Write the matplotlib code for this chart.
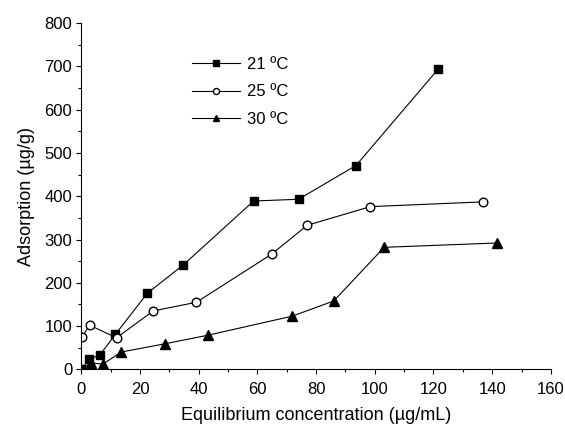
import matplotlib
matplotlib.use("Agg")
import matplotlib.pyplot as plt
from matplotlib.ticker import MultipleLocator

plt.rcParams['font.family'] = ['Liberation Sans', 'DejaVu Sans']

# datos
x_21 = [0, 2.7, 6.3, 11.6, 22.5, 34.7, 58.7, 74.0, 93.6, 121.5]
y_21 = [0, 24, 33, 81, 176, 241, 389, 393, 471, 693]

x_25 = [0.2, 2.8, 12.0, 24.5, 39.2, 64.8, 77.0, 98.5, 137.0]
y_25 = [75, 102, 73, 135, 155, 266, 333, 376, 387]

x_30 = [0, 3.3, 7.3, 13.6, 28.4, 43.2, 71.9, 86.0, 103.2, 141.7]
y_30 = [0, 15, 12, 40, 59, 79, 123, 158, 282, 292]

etiquetas = ['21 ºC', '25 ºC', '30 ºC']

fig = plt.figure(figsize=(5.65, 4.28), dpi=100)
ax = fig.add_axes([0.144, 0.137, 0.831, 0.809])

estilo = dict(color='black', linewidth=0.8)
ax.plot(x_21, y_21, marker='s', markersize=5.6, markerfacecolor='black',
        label=etiquetas[0], **estilo)
ax.plot(x_25, y_25, marker='o', markersize=6.2, markerfacecolor='white',
        label=etiquetas[1], **estilo)
ax.plot(x_30, y_30, marker='^', markersize=6.5, markerfacecolor='black',
        label=etiquetas[2], **estilo)

ax.set_xlim(0, 160)
ax.set_ylim(0, 800)
ax.xaxis.set_major_locator(MultipleLocator(20))
ax.xaxis.set_minor_locator(MultipleLocator(10))
ax.yaxis.set_major_locator(MultipleLocator(100))
ax.yaxis.set_minor_locator(MultipleLocator(50))
ax.tick_params(which='major', length=3.5, width=0.8, labelsize=12)
ax.tick_params(which='minor', length=2.2, width=0.8)
ax.tick_params(axis='x', which='major', pad=5.5)
ax.tick_params(axis='y', which='major', pad=3)

for lado in ['top', 'right']:
    ax.spines[lado].set_visible(False)
for lado in ['left', 'bottom']:
    ax.spines[lado].set_linewidth(0.8)

ax.set_xlabel('Equilibrium concentration (µg/mL)', fontsize=13, labelpad=7)
ax.set_ylabel('Adsorption (µg/g)', fontsize=13, labelpad=7)

ax.legend(loc='upper left', bbox_to_anchor=(177 / 565, 1 - 42 / 428),
          bbox_transform=fig.transFigure, frameon=False,
          fontsize=12, handlelength=2.9, labelspacing=0.75, markerscale=0.7,
          handletextpad=0.4)

fig.savefig('out.png', dpi=100)
